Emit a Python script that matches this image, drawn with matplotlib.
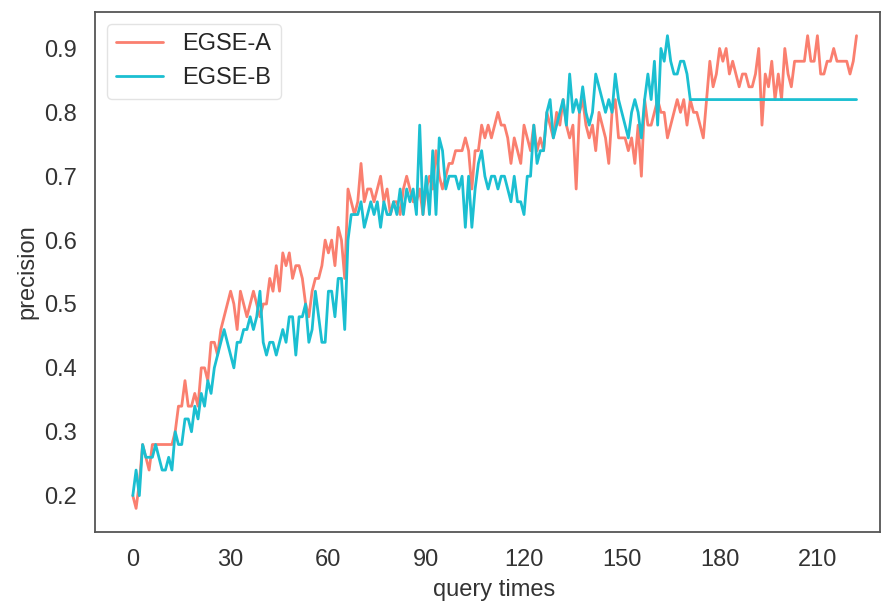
import numpy as np
import matplotlib
matplotlib.use("Agg")
import matplotlib.pyplot as plt
import seaborn as sns

# precision per query round
egse_a = [
    0.20, 0.18, 0.22, 0.28, 0.26, 0.24, 0.28, 0.28, 0.28, 0.28,
    0.28, 0.28, 0.28, 0.30, 0.34, 0.34, 0.38, 0.34, 0.34, 0.36,
    0.34, 0.40, 0.40, 0.38, 0.44, 0.44, 0.42, 0.46, 0.48, 0.50,
    0.52, 0.50, 0.46, 0.52, 0.50, 0.48, 0.50, 0.52, 0.50, 0.48,
    0.50, 0.50, 0.54, 0.52, 0.56, 0.52, 0.58, 0.56, 0.58, 0.54,
    0.56, 0.56, 0.54, 0.50, 0.48, 0.52, 0.54, 0.54, 0.56, 0.60,
    0.58, 0.60, 0.56, 0.62, 0.60, 0.54, 0.68, 0.66, 0.64, 0.66,
    0.72, 0.66, 0.68, 0.68, 0.66, 0.68, 0.70, 0.66, 0.68, 0.64,
    0.66, 0.66, 0.64, 0.68, 0.70, 0.68, 0.66, 0.66, 0.68, 0.64,
    0.68, 0.70, 0.68, 0.74, 0.70, 0.68, 0.70, 0.72, 0.72, 0.74,
    0.74, 0.74, 0.76, 0.74, 0.68, 0.74, 0.74, 0.78, 0.76, 0.78,
    0.76, 0.78, 0.80, 0.78, 0.78, 0.76, 0.72, 0.76, 0.74, 0.72,
    0.78, 0.76, 0.74, 0.78, 0.74, 0.76, 0.74, 0.80, 0.78, 0.76,
    0.80, 0.78, 0.82, 0.78, 0.76, 0.78, 0.68, 0.80, 0.82, 0.78,
    0.76, 0.78, 0.74, 0.80, 0.78, 0.76, 0.72, 0.80, 0.82, 0.76,
    0.76, 0.76, 0.74, 0.76, 0.72, 0.78, 0.70, 0.82, 0.78, 0.78,
    0.80, 0.82, 0.80, 0.80, 0.76, 0.78, 0.80, 0.82, 0.80, 0.82,
    0.78, 0.82, 0.80, 0.80, 0.78, 0.76, 0.82, 0.88, 0.84, 0.86,
    0.90, 0.88, 0.90, 0.86, 0.88, 0.86, 0.84, 0.86, 0.86, 0.84,
    0.84, 0.86, 0.90, 0.78, 0.86, 0.84, 0.88, 0.82, 0.86, 0.82,
    0.90, 0.86, 0.84, 0.88, 0.88, 0.88, 0.88, 0.92, 0.88, 0.88,
    0.92, 0.86, 0.86, 0.88, 0.88, 0.90, 0.88, 0.88, 0.88, 0.88,
    0.86, 0.88, 0.92,
]

egse_b = [
    0.20, 0.24, 0.20, 0.28, 0.26, 0.26, 0.26, 0.28, 0.26, 0.24,
    0.24, 0.26, 0.24, 0.30, 0.28, 0.28, 0.32, 0.32, 0.30, 0.34,
    0.32, 0.36, 0.34, 0.38, 0.36, 0.40, 0.42, 0.44, 0.46, 0.44,
    0.42, 0.40, 0.44, 0.44, 0.46, 0.46, 0.48, 0.46, 0.48, 0.52,
    0.44, 0.42, 0.44, 0.44, 0.42, 0.44, 0.46, 0.44, 0.48, 0.48,
    0.42, 0.48, 0.48, 0.50, 0.44, 0.46, 0.52, 0.48, 0.44, 0.44,
    0.52, 0.52, 0.48, 0.54, 0.54, 0.46, 0.60, 0.64, 0.64, 0.64,
    0.66, 0.62, 0.64, 0.66, 0.64, 0.66, 0.62, 0.66, 0.64, 0.64,
    0.66, 0.64, 0.68, 0.64, 0.68, 0.66, 0.68, 0.64, 0.78, 0.64,
    0.70, 0.64, 0.74, 0.64, 0.76, 0.74, 0.68, 0.70, 0.70, 0.70,
    0.68, 0.70, 0.62, 0.70, 0.62, 0.68, 0.72, 0.74, 0.70, 0.68,
    0.70, 0.70, 0.68, 0.70, 0.70, 0.68, 0.66, 0.70, 0.66, 0.66,
    0.64, 0.70, 0.70, 0.78, 0.72, 0.74, 0.74, 0.80, 0.82, 0.76,
    0.78, 0.80, 0.82, 0.78, 0.86, 0.80, 0.82, 0.80, 0.84, 0.80,
    0.78, 0.80, 0.86, 0.84, 0.82, 0.80, 0.82, 0.80, 0.86, 0.82,
    0.80, 0.78, 0.76, 0.80, 0.82, 0.80, 0.76, 0.82, 0.86, 0.82,
    0.88, 0.78, 0.90, 0.88, 0.92, 0.88, 0.86, 0.86, 0.88, 0.88,
    0.86, 0.82, 0.82, 0.82, 0.82, 0.82, 0.82, 0.82, 0.82, 0.82,
    0.82, 0.82, 0.82, 0.82, 0.82, 0.82, 0.82, 0.82, 0.82, 0.82,
    0.82, 0.82, 0.82, 0.82, 0.82, 0.82, 0.82, 0.82, 0.82, 0.82,
    0.82, 0.82, 0.82, 0.82, 0.82, 0.82, 0.82, 0.82, 0.82, 0.82,
    0.82, 0.82, 0.82, 0.82, 0.82, 0.82, 0.82, 0.82, 0.82, 0.82,
    0.82, 0.82, 0.82,
]

x_ticks = [0, 30, 60, 90, 120, 150, 180, 210]
y_ticks = [0.2, 0.3, 0.4, 0.5, 0.6, 0.7, 0.8, 0.9]

sns.set_style("white")
plt.rcParams["font.family"] = ["Liberation Sans", "DejaVu Sans"]

fig = plt.figure(figsize=(8.83, 6.03), dpi=100)
ax = fig.add_axes([0.1076, 0.1177, 0.889, 0.8623])

ax.plot(np.arange(len(egse_a)), egse_a, color="#fa7f6f", linewidth=2.0, label="EGSE-A")
ax.plot(np.arange(len(egse_b)), egse_b, color="#1bbfd1", linewidth=2.0, label="EGSE-B")

ax.set_xlim(-11.6, 229.2)
ax.set_xticks(x_ticks)
ax.set_yticks(y_ticks)
ax.tick_params(labelsize=17, colors="#333333", length=0)
ax.tick_params(axis="x", pad=12)
ax.tick_params(axis="y", pad=13)

ax.set_xlabel("query times", fontsize=17, color="#333333", labelpad=6)
ax.xaxis.label.set_x(0.508)
ax.set_ylabel("precision", fontsize=17, color="#333333", labelpad=4)

for s in ax.spines.values():
    s.set_color("#555555")
    s.set_linewidth(1.3)

leg = ax.legend(loc="upper left", fontsize=17, frameon=True, handlelength=2.0)
leg.get_frame().set_edgecolor("#dddddd")

fig.savefig("out.png", dpi=100)
